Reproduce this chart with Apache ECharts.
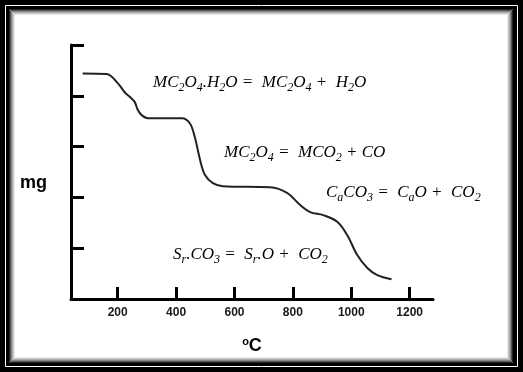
<!DOCTYPE html>
<html>
<head>
<meta charset="utf-8">
<script src="https://cdn.jsdelivr.net/npm/echarts@6/dist/echarts.min.js"></script>
<style>html,body{margin:0;padding:0;background:#000;}#c{width:523px;height:372px;}</style>
</head>
<body>
<div id="c"></div>
<script>
// Temperature (ºC) and mass (mg, arbitrary units)
const temperature = [80, 162, 200, 224, 241, 258, 269, 282, 303, 420, 447, 464, 482, 499, 526, 560, 722, 780, 825, 859, 904, 952, 986, 1020, 1055, 1089, 1138];
const mass        = [4.44, 4.43, 4.25, 4.07, 3.98, 3.88, 3.72, 3.62, 3.56, 3.56, 3.46, 3.19, 2.74, 2.44, 2.28, 2.22, 2.20, 2.09, 1.85, 1.71, 1.65, 1.52, 1.26, 0.87, 0.61, 0.47, 0.39];
const xTicks = [200, 400, 600, 800, 1000, 1200];
const yTicks = [0, 1, 2, 3, 4, 5];
const reactions = [
  '{t|MC}{s|2}{t|O}{s|4}{t|.H}{s|2}{t|O =  MC}{s|2}{t|O}{s|4}{t| +  H}{s|2}{t|O}',
  '{t|MC}{s|2}{t|O}{s|4}{t| =  MCO}{s|2}{t| + CO}',
  '{t|C}{s|a}{t|CO}{s|3}{t| =  C}{s|a}{t|O +  CO}{s|2}',
  '{t|S}{s|r}{t|.CO}{s|3}{t| =  S}{s|r}{t|.O +  CO}{s|2}'
];

const chart = echarts.init(document.getElementById('c'), null, {renderer: 'canvas'});
const serif = "'Liberation Serif', serif";
const rich = {
  t: {fontFamily: serif, fontStyle: 'italic', fontSize: 17, lineHeight: 21, color: '#111'},
  s: {fontFamily: serif, fontStyle: 'italic', fontSize: 12, lineHeight: 12, verticalAlign: 'bottom', color: '#111'}
};
const textPos = [[153, 83], [224, 153], [326, 193], [173, 255]];

const frame = [
  {type: 'rect', z: -100, shape: {x: 0, y: 0, width: 523, height: 372}, style: {fill: '#000'}},
  {type: 'rect', z: -99, shape: {x: 5.5, y: 5.5, width: 512, height: 361}, style: {fill: null, stroke: '#fff', lineWidth: 1}},
  {type: 'rect', z: -98, shape: {x: 9, y: 9, width: 504, height: 354}, style: {fill: '#fff'}}
];
const shades = ['#222', '#555', '#888', '#aaa', '#ccc', '#e8e8e8'];
shades.forEach((c, i) => {
  frame.push({type: 'rect', z: -97, shape: {x: 9.5 + i, y: 9.5 + i, width: 503 - 2 * i, height: 353 - 2 * i}, style: {fill: null, stroke: c, lineWidth: 1}});
});
reactions.forEach((r, i) => {
  frame.push({type: 'text', z: 100, style: {x: textPos[i][0], y: textPos[i][1], text: r, rich: rich, verticalAlign: 'middle', align: 'left'}});
});

chart.setOption({
  animation: false,
  grid: {left: 71, right: 90, top: 45, bottom: 73},
  xAxis: {
    type: 'value', min: 40, max: 1280,
    name: '{o|o}{c|C}', nameLocation: 'middle', nameGap: 37,
    nameTextStyle: {rich: {
      o: {fontFamily: "'Liberation Sans', Arial", fontWeight: 'bold', fontSize: 11, lineHeight: 11, verticalAlign: 'top', color: '#000'},
      c: {fontFamily: "'Liberation Sans', Arial", fontWeight: 'bold', fontSize: 18, lineHeight: 20, color: '#000'}
    }},
    axisLine: {onZero: false, lineStyle: {color: '#000', width: 3}},
    axisTick: {show: true, inside: true, length: 12, customValues: xTicks, lineStyle: {color: '#000', width: 3}},
    axisLabel: {customValues: xTicks, margin: 8, formatter: v => String(v), fontFamily: "'Liberation Sans', Arial", fontWeight: 'bold', fontSize: 12, color: '#1a1a1a'},
    splitLine: {show: false}
  },
  yAxis: {
    type: 'value', min: 0, max: 5, interval: 1,
    name: '\nmg', nameLocation: 'middle', nameGap: 24, nameRotate: 0,
    nameTextStyle: {fontFamily: "'Liberation Sans', Arial", fontWeight: 'bold', fontSize: 18, lineHeight: 23, color: '#000'},
    axisLine: {show: true, lineStyle: {color: '#000', width: 3}},
    axisTick: {show: true, inside: true, length: 13, customValues: yTicks.slice(1), lineStyle: {color: '#000', width: 3}},
    axisLabel: {show: false},
    splitLine: {show: false}
  },
  graphic: frame,
  series: [{
    type: 'line',
    data: temperature.map((t, i) => [t, mass[i]]),
    smooth: 0.35,
    showSymbol: false,
    lineStyle: {color: '#222', width: 2}
  }]
});
</script>
</body>
</html>
